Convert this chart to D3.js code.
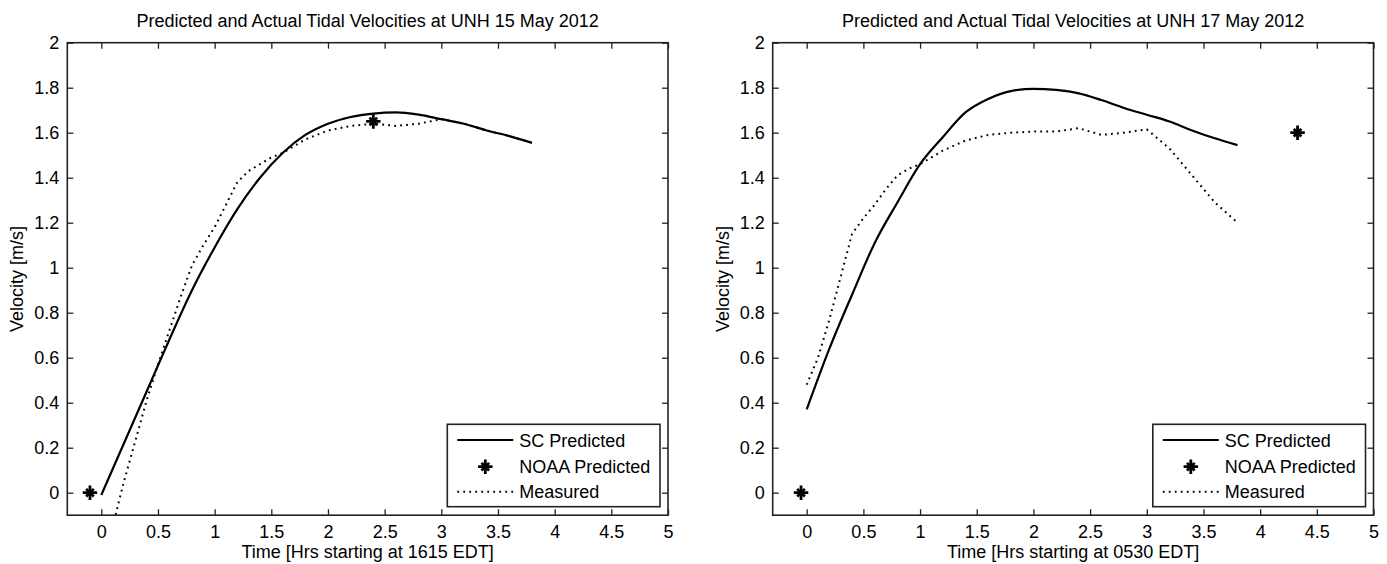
<!DOCTYPE html>
<html><head><meta charset="utf-8">
<script src="https://cdn.jsdelivr.net/npm/d3@7"></script>
<style>
body{margin:0;background:#fff;}
text{font-family:"Liberation Sans",Arial,sans-serif;fill:#000;}
</style></head>
<body>
<svg id="c" width="1387" height="564"></svg>
<script>
// ---- data ----
const titles = ["Predicted and Actual Tidal Velocities at UNH 15 May 2012",
                "Predicted and Actual Tidal Velocities at UNH 17 May 2012"];
const xLabels = ["Time [Hrs starting at 1615 EDT]", "Time [Hrs starting at 0530 EDT]"];
const yLabel = "Velocity [m/s]";
const legendLabels = ["SC Predicted", "NOAA Predicted", "Measured"];
const xTicks = [0,0.5,1,1.5,2,2.5,3,3.5,4,4.5,5];
const yTicks = [0,0.2,0.4,0.6,0.8,1,1.2,1.4,1.6,1.8,2];

// 15 May
const scT1 = [0,0.2,0.4,0.6,0.8,1.0,1.2,1.4,1.6,1.8,2.0,2.2,2.4,2.6,2.8,3.0,3.2,3.4,3.6,3.8];
const scV1 = [-0.01,0.22,0.45,0.68,0.90,1.09,1.26,1.40,1.51,1.59,1.64,1.67,1.685,1.69,1.68,1.66,1.64,1.61,1.585,1.555];
const msT1 = [0.1,0.2,0.3,0.4,0.5,0.6,0.7,0.8,0.9,1.0,1.1,1.2,1.3,1.4,1.5,1.6,1.8,2.0,2.2,2.4,2.6,2.8,3.0,3.2,3.4,3.6,3.8];
const msV1 = [-0.15,0.05,0.23,0.41,0.57,0.72,0.87,1.01,1.10,1.18,1.28,1.38,1.43,1.46,1.49,1.51,1.57,1.61,1.63,1.64,1.63,1.64,1.66,1.64,1.61,1.585,1.555];
const noaaT1 = [-0.1,2.4];
const noaaV1 = [0,1.65];

// 17 May
const scT2 = [0,0.2,0.4,0.6,0.8,1.0,1.2,1.4,1.6,1.8,2.0,2.2,2.4,2.6,2.8,3.0,3.2,3.4,3.6,3.8];
const scV2 = [0.37,0.64,0.88,1.11,1.29,1.46,1.58,1.69,1.75,1.785,1.795,1.79,1.775,1.745,1.71,1.68,1.65,1.61,1.575,1.545];
const msT2 = [0,0.1,0.2,0.3,0.4,0.5,0.6,0.7,0.8,0.9,1.0,1.2,1.4,1.6,1.8,2.0,2.2,2.4,2.6,2.8,3.0,3.2,3.4,3.6,3.8];
const msV2 = [0.48,0.60,0.77,0.96,1.15,1.22,1.28,1.35,1.41,1.44,1.46,1.52,1.565,1.59,1.60,1.605,1.605,1.62,1.59,1.60,1.615,1.53,1.41,1.29,1.20];
const noaaT2 = [-0.05,4.33];
const noaaV2 = [0,1.60];

const panels = [
  {title:titles[0], xl:xLabels[0], sc:[scT1,scV1], ms:[msT1,msV1], no:[noaaT1,noaaV1], left:67.3, right:668},
  {title:titles[1], xl:xLabels[1], sc:[scT2,scV2], ms:[msT2,msV2], no:[noaaT2,noaaV2], left:772.7, right:1373.5}
];
const pTop = 42.7, pBottom = 515.2;
const svg = d3.select("#c");
const FS = 18;
const timesSym = d3.symbolTimes || d3.symbolX;

function star(g, x, y){
  g.append("path").attr("d", d3.symbol(d3.symbolPlus, 70)()).attr("transform",`translate(${x},${y})`)
    .attr("fill","none").attr("stroke","#000").attr("stroke-width",2.8);
  g.append("path").attr("d", d3.symbol(timesSym, 40)()).attr("transform",`translate(${x},${y})`)
    .attr("fill","none").attr("stroke","#000").attr("stroke-width",2.8);
}

panels.forEach((p,i)=>{
  const x = d3.scaleLinear().domain([-0.3,5]).range([p.left,p.right]);
  const y = d3.scaleLinear().domain([-0.1,2]).range([pBottom,pTop]);
  const g = svg.append("g");
  const clipId = "clip"+i;
  svg.append("clipPath").attr("id",clipId).append("rect")
    .attr("x",p.left).attr("y",pTop).attr("width",p.right-p.left).attr("height",pBottom-pTop);

  const tl = 6;
  const gb = g.append("g").attr("transform",`translate(0,${pBottom})`).call(d3.axisBottom(x).tickValues(xTicks).tickSize(-tl).tickPadding(10).tickFormat(d3.format("~g")));
  const gt = g.append("g").attr("transform",`translate(0,${pTop})`).call(d3.axisTop(x).tickValues(xTicks).tickSize(-tl).tickFormat(""));
  const gl = g.append("g").attr("transform",`translate(${p.left},0)`).call(d3.axisLeft(y).tickValues(yTicks).tickSize(-tl).tickPadding(8).tickFormat(d3.format("~g")));
  const gr = g.append("g").attr("transform",`translate(${p.right},0)`).call(d3.axisRight(y).tickValues(yTicks).tickSize(-tl).tickFormat(""));
  [gb,gt,gl,gr].forEach(a=>{
    a.select(".domain").remove();
    a.selectAll(".tick line").attr("stroke","#222").attr("stroke-width",1.3);
    a.selectAll("text").attr("font-size",FS).attr("font-family","Liberation Sans, Arial, sans-serif").attr("fill","#000");
  });
  g.append("rect").attr("x",p.left).attr("y",pTop).attr("width",p.right-p.left).attr("height",pBottom-pTop)
    .attr("fill","none").attr("stroke","#222").attr("stroke-width",1.6);

  const lineS = d3.line().x(d=>x(d[0])).y(d=>y(d[1])).curve(d3.curveMonotoneX);
  const lineM = d3.line().x(d=>x(d[0])).y(d=>y(d[1]));
  const scD = p.sc[0].map((t,k)=>[t,p.sc[1][k]]);
  const msD = p.ms[0].map((t,k)=>[t,p.ms[1][k]]);
  const pl = g.append("g").attr("clip-path",`url(#${clipId})`);
  pl.append("path").datum(scD).attr("d",lineS).attr("fill","none").attr("stroke","#000").attr("stroke-width",2.2);
  pl.append("path").datum(msD).attr("d",lineM).attr("fill","none").attr("stroke","#000").attr("stroke-width",2).attr("stroke-dasharray","1.8,4.2");
  p.no[0].forEach((t,k)=>star(pl, x(t), y(p.no[1][k])));

  g.append("text").attr("x",(p.left+p.right)/2).attr("y",27).attr("text-anchor","middle").attr("font-size",FS).text(p.title);
  g.append("text").attr("x",(p.left+p.right)/2).attr("y",558).attr("text-anchor","middle").attr("font-size",FS).text(p.xl);
  g.append("text").attr("transform",`translate(${p.left-44},${(pTop+pBottom)/2}) rotate(-90)`).attr("text-anchor","middle").attr("font-size",FS).text(yLabel);

  const lx = p.right-220.7, ly = 424.3, lw = 212.7, lh = 82.4;
  const lg = g.append("g");
  lg.append("rect").attr("x",lx).attr("y",ly).attr("width",lw).attr("height",lh).attr("fill","#fff").attr("stroke","#222").attr("stroke-width",1.6);
  const rows = [440, 466.7, 491.7];
  lg.append("line").attr("x1",lx+10).attr("x2",lx+66).attr("y1",rows[0]).attr("y2",rows[0]).attr("stroke","#000").attr("stroke-width",2.2);
  star(lg, lx+38, rows[1]);
  lg.append("line").attr("x1",lx+10).attr("x2",lx+66).attr("y1",rows[2]).attr("y2",rows[2]).attr("stroke","#000").attr("stroke-width",2).attr("stroke-dasharray","1.8,4.2");
  legendLabels.forEach((s,k)=>{
    lg.append("text").attr("x",lx+72).attr("y",rows[k]+6.5).attr("font-size",FS).text(s);
  });
});
</script>
</body></html>
